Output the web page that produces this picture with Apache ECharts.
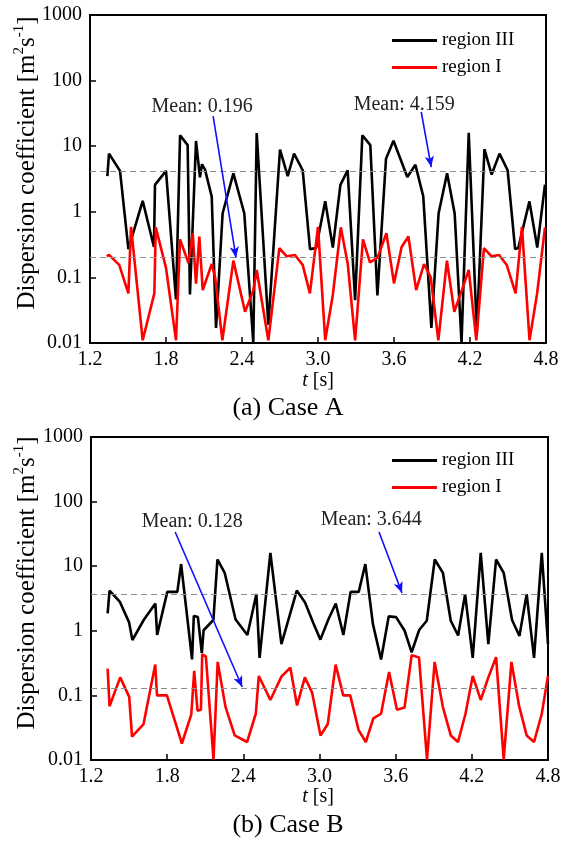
<!DOCTYPE html>
<html>
<head>
<meta charset="utf-8">
<script src="https://cdn.jsdelivr.net/npm/echarts@6/dist/echarts.min.js"></script>
<style>html,body{margin:0;padding:0;background:#fff;}#c{width:569px;height:842px;}</style>
</head>
<body>
<div id="c"></div>
<script>
// ---------- data ----------
const xTicks = [1.2, 1.8, 2.4, 3.0, 3.6, 4.2, 4.8];
const yTicks = [0.01, 0.1, 1, 10, 100, 1000];
const seriesNames = ['region III', 'region I'];
const captions = ['(a) Case A', '(b) Case B'];

// Case A, region III
const tA3 = [1.337,1.350,1.437,1.503,1.616,1.705,1.713,1.800,1.879,1.911,1.971,1.989,2.037,2.068,2.084,2.108,2.161,2.195,2.247,2.332,2.418,2.489,2.516,2.608,2.700,2.761,2.811,2.879,2.937,2.985,3.057,3.117,3.177,3.234,3.293,3.350,3.413,3.469,3.537,3.596,3.705,3.769,3.831,3.895,3.952,4.019,4.079,4.133,4.190,4.254,4.314,4.371,4.433,4.497,4.556,4.581,4.669,4.731,4.792];
const vA3 = [3.5,7.7,4.2,0.27,1.47,0.29,2.57,4.2,0.046,14.7,10.4,0.055,12,3.35,5.3,4.4,1.7,0.017,0.95,3.86,0.95,0.0102,15.9,0.019,8.9,3.5,7.7,4.3,0.27,0.28,1.45,0.285,2.58,4.3,0.045,14.7,10.4,0.053,6.45,12.1,3.4,5.2,1.72,0.017,0.94,3.88,0.94,0.0102,16,0.015,9,3.7,7.7,4.3,0.27,0.28,1.44,0.285,2.6];
// Case A, region I
const tA1 = [1.332,1.350,1.431,1.503,1.524,1.616,1.708,1.719,1.800,1.879,1.911,1.977,2.011,2.037,2.063,2.090,2.161,2.188,2.245,2.332,2.424,2.490,2.516,2.608,2.695,2.753,2.818,2.879,2.936,3.000,3.057,3.117,3.180,3.235,3.293,3.355,3.410,3.470,3.540,3.600,3.660,3.714,3.775,3.837,3.890,3.950,4.018,4.076,4.136,4.190,4.250,4.310,4.370,4.430,4.490,4.560,4.610,4.670,4.730,4.792];
const vA1 = [0.21,0.22,0.155,0.057,0.59,0.011,0.057,0.58,0.14,0.011,0.38,0.165,0.47,0.08,0.42,0.064,0.16,0.1,0.011,0.18,0.03,0.064,0.13,0.011,0.28,0.21,0.22,0.155,0.057,0.59,0.011,0.054,0.58,0.16,0.011,0.38,0.17,0.2,0.47,0.081,0.29,0.42,0.064,0.16,0.1,0.011,0.18,0.03,0.064,0.13,0.011,0.28,0.21,0.22,0.155,0.057,0.59,0.011,0.057,0.58];
// Case B, region III
const tB3 = [1.331,1.346,1.428,1.500,1.526,1.615,1.707,1.721,1.801,1.880,1.910,1.996,2.010,2.042,2.073,2.087,2.164,2.196,2.253,2.339,2.432,2.503,2.528,2.613,2.700,2.821,2.886,2.951,3.007,3.068,3.128,3.188,3.245,3.309,3.361,3.421,3.485,3.545,3.603,3.670,3.726,3.785,3.845,3.908,3.972,4.034,4.092,4.147,4.207,4.270,4.330,4.391,4.451,4.517,4.575,4.632,4.690,4.751,4.800];
const vB3 = [1.86,4.2,2.8,1.35,0.72,1.47,2.64,0.86,4.0,4.0,10.8,0.36,1.7,1.63,0.45,1.02,1.47,12.7,7.9,1.5,0.86,3.7,0.38,16.1,0.62,4.2,2.75,1.32,0.73,1.47,2.64,0.86,4.0,4.0,10.8,1.27,0.36,1.67,1.63,1.01,0.465,1.03,1.43,12.7,7.9,1.43,0.845,3.7,0.38,16.1,0.62,12.7,7.9,1.47,0.83,3.7,0.38,16.1,0.62];
// Case B, region I
const tB1 = [1.331,1.346,1.430,1.501,1.523,1.614,1.706,1.720,1.798,1.916,1.990,2.013,2.039,2.066,2.076,2.105,2.165,2.198,2.259,2.332,2.430,2.498,2.522,2.613,2.700,2.770,2.823,2.885,2.942,3.008,3.065,3.127,3.187,3.242,3.308,3.365,3.424,3.485,3.548,3.610,3.670,3.726,3.784,3.847,3.907,3.972,4.034,4.091,4.150,4.207,4.270,4.330,4.391,4.451,4.512,4.572,4.632,4.690,4.751,4.800];
const vB1 = [0.26,0.068,0.19,0.095,0.023,0.036,0.30,0.10,0.10,0.018,0.051,0.24,0.058,0.06,0.43,0.40,0.0102,0.33,0.067,0.024,0.019,0.052,0.20,0.085,0.195,0.27,0.07,0.19,0.11,0.024,0.036,0.30,0.10,0.10,0.029,0.019,0.044,0.052,0.23,0.06,0.065,0.42,0.385,0.0102,0.33,0.066,0.024,0.019,0.052,0.20,0.085,0.19,0.39,0.0102,0.33,0.069,0.024,0.019,0.052,0.20];

const meanA3 = 4.159, meanA1 = 0.196, meanB3 = 3.644, meanB1 = 0.128;

// ---------- chart ----------
const FONT = 'Liberation Serif';
const zip = (t, v) => t.map((x, i) => [x, v[i]]);

function xAxis(gi) {
  return {
    type: 'value', gridIndex: gi, min: 1.2, max: 4.8, interval: 0.6,
    axisLine: {show: true, lineStyle: {color: '#000', width: 2}},
    axisTick: {show: true, inside: true, length: 6, lineStyle: {color: '#000', width: 1.5}},
    axisLabel: {color: '#000', fontSize: 20, fontFamily: FONT, margin: 7,
      formatter: v => v.toFixed(1)},
    splitLine: {show: false}
  };
}
function yAxis(gi) {
  return {
    type: 'log', logBase: 10, gridIndex: gi, min: 0.01, max: 1000,
    axisLine: {show: true, lineStyle: {color: '#000', width: 2}},
    axisTick: {show: true, inside: true, length: 6, lineStyle: {color: '#000', width: 1.5}},
    axisLabel: {color: '#000', fontSize: 20, fontFamily: FONT, margin: 8,
      formatter: v => {
        const k = yTicks.find(t => Math.abs(Math.log10(t) - Math.log10(v)) < 1e-6);
        return k !== undefined ? String(k) : '';
      }},
    splitLine: {show: false}, minorTick: {show: false}
  };
}

const meanLine = v => ({yAxis: v, symbol: 'none',
  lineStyle: {color: '#8c8c8c', type: [6, 4], width: 1}});
const arrow = (p0, p1) => [
  {coord: p0, symbol: 'none', lineStyle: {color: '#1010ff', width: 1.6, type: 'solid'}},
  {coord: p1, symbol: 'arrow', symbolSize: [7, 11]}
];
const note = (text, c) => ({
  symbol: 'rect', symbolSize: 1, itemStyle: {color: 'rgba(0,0,0,0)'},
  label: {show: true, position: 'inside', formatter: '{b}', color: '#222',
    fontSize: 20, fontFamily: FONT},
  data: [{name: text, coord: c}]
});

function line(name, data, color, gi, markLineData, markPoint) {
  return {
    name, type: 'line', xAxisIndex: gi, yAxisIndex: gi, data,
    showSymbol: false, symbol: 'none', silent: true,
    lineStyle: {color, width: 2.6}, itemStyle: {color},
    markLine: {silent: true, symbol: ['none', 'none'], label: {show: false},
      data: markLineData},
    markPoint
  };
}

const legend = top => ({
  orient: 'vertical', left: 392, top, padding: 0,
  itemWidth: 45, itemHeight: 18, itemGap: 8,
  icon: 'path://M0,0 L45,0 L45,2.8 L0,2.8 Z', symbolKeepAspect: true,
  data: seriesNames, selectedMode: false,
  textStyle: {color: '#000', fontSize: 19, fontFamily: FONT}
});

function yTitle(x, y) {
  return {type: 'text', x, y, rotation: Math.PI / 2, silent: true,
    style: {
      text: '{a|Dispersion coefficient [m}{s|2}{a|s}{s|-1}{a|]}',
      align: 'center', verticalAlign: 'middle',
      rich: {
        a: {fontSize: 25, fontFamily: FONT, fill: '#000', lineHeight: 30},
        s: {fontSize: 15, fontFamily: FONT, fill: '#000', lineHeight: 30, verticalAlign: 'top'}
      }
    }};
}
function xTitle(x, y) {
  return {type: 'text', x, y, silent: true,
    style: {
      text: '{i|t}{n| [s]}', align: 'center', verticalAlign: 'middle',
      rich: {
        i: {fontSize: 20, fontFamily: FONT, fontStyle: 'italic', fill: '#000'},
        n: {fontSize: 20, fontFamily: FONT, fill: '#000'}
      }
    }};
}
function caption(text, x, y) {
  return {type: 'text', x, y, silent: true,
    style: {text, align: 'center', verticalAlign: 'middle', fontSize: 26,
      fontFamily: FONT, fill: '#000'}};
}

const chart = echarts.init(document.getElementById('c'), null, {renderer: 'canvas'});
chart.setOption({
  backgroundColor: '#fff',
  animation: false,
  grid: [
    {left: 90, top: 15, width: 456, height: 328, show: true, borderColor: '#000', borderWidth: 2, backgroundColor: 'transparent'},
    {left: 91, top: 437, width: 457, height: 323, show: true, borderColor: '#000', borderWidth: 2, backgroundColor: 'transparent'}
  ],
  xAxis: [xAxis(0), xAxis(1)],
  yAxis: [yAxis(0), yAxis(1)],
  legend: [legend(31), legend(451)],
  series: [
    line(seriesNames[0], zip(tA3, vA3), '#000', 0,
      [meanLine(meanA3), arrow([3.815, 33.2], [3.894, 4.8])],
      note('Mean: ' + meanA3, [3.681, 42.5])),
    line(seriesNames[1], zip(tA1, vA1), '#ff0000', 0,
      [meanLine(meanA1), arrow([2.172, 28.8], [2.353, 0.2])],
      note('Mean: ' + meanA1, [2.085, 39.6])),
    line(seriesNames[0], zip(tB3, vB3), '#000', 1,
      [meanLine(meanB3), arrow([3.469, 33.8], [3.65, 3.85])],
      note('Mean: ' + meanB3, [3.408, 51.9])),
    line(seriesNames[1], zip(tB1, vB1), '#ff0000', 1,
      [meanLine(meanB1), arrow([1.863, 33.8], [2.391, 0.135])],
      note('Mean: ' + meanB1, [1.998, 48.3]))
  ],
  graphic: [
    yTitle(27, 163), yTitle(27, 583),
    xTitle(318, 381), xTitle(318, 797),
    caption(captions[0], 288, 408), caption(captions[1], 288, 825)
  ]
});
</script>
</body>
</html>
